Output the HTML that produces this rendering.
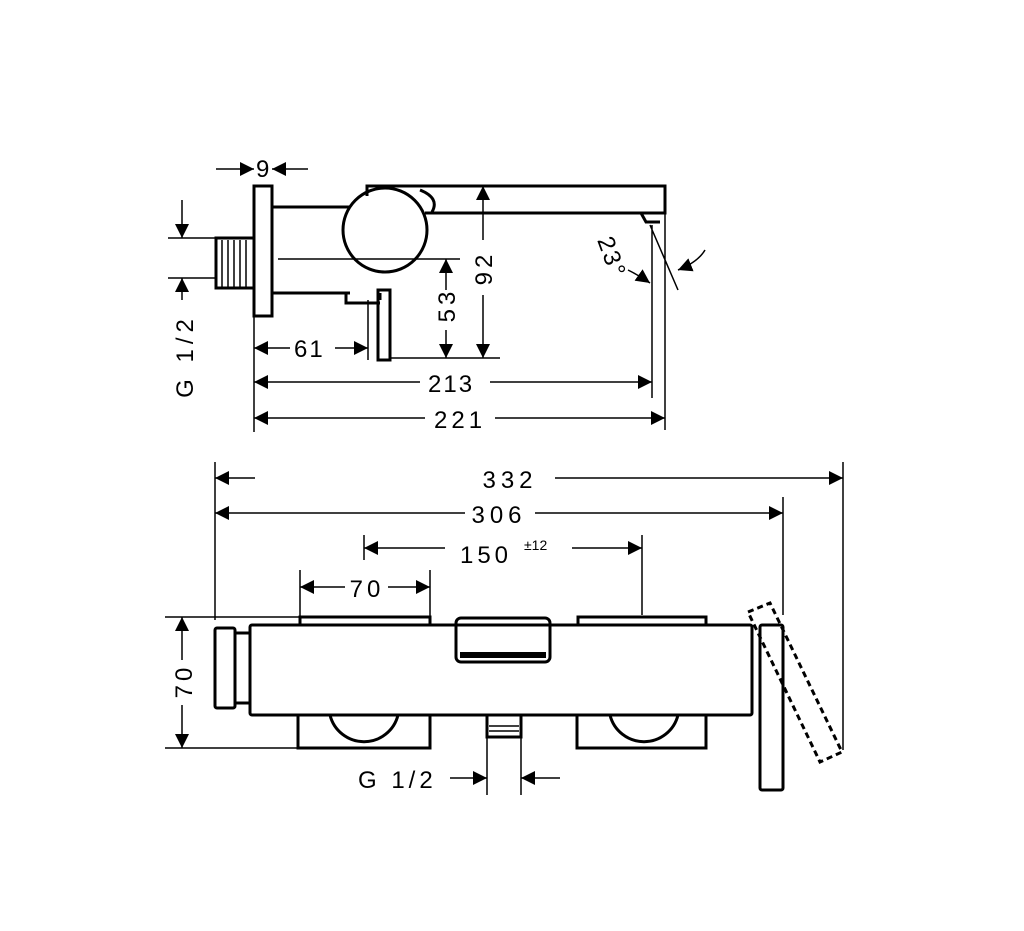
<!DOCTYPE html><html><head><style>body{margin:0;background:#fff}</style></head><body>
<svg width="1024" height="926" viewBox="0 0 1024 926" xmlns="http://www.w3.org/2000/svg" font-family="Liberation Sans, sans-serif" font-size="24" fill="none" stroke="#000">
<defs><marker id="a" viewBox="0 0 10 10" refX="10" refY="5" markerWidth="11" markerHeight="11" markerUnits="userSpaceOnUse" orient="auto-start-reverse"><path d="M0,0L10,5L0,10z" fill="#000" stroke="none"/></marker>
<marker id="b" viewBox="0 0 10 10" refX="10" refY="5" markerWidth="14" markerHeight="14" markerUnits="userSpaceOnUse" orient="auto-start-reverse"><path d="M0,0L10,5L0,10z" fill="#000" stroke="none"/></marker></defs>
<g stroke-width="3">
<rect x="254" y="186" width="18" height="130"/>
<path d="M272,207H350M272,293H350"/>
<circle cx="385" cy="230" r="42" fill="#fff"/>
<path d="M367,196V186H665V213H425M420,190Q440,198 432,212"/>
<rect x="216" y="238" width="38" height="50"/>
<path d="M346,293V303H380M380,300V293"/>
<rect x="378" y="290" width="12" height="70"/>
<path d="M641,213L646,222H660"/>
</g>
<g stroke-width="1.5">
<path d="M222,240V287M228,240V287M234,240V287M240,240V287M246,240V287"/>
<path d="M216,169H254" marker-end="url(#b)"/><path d="M308,169H272" marker-end="url(#b)"/>
<path d="M168,238H216M168,278H216M278,259H460M390,358H500"/>
<path d="M182,200V238" marker-end="url(#b)"/><path d="M182,300V278" marker-end="url(#b)"/>
<path d="M446,290V259" marker-end="url(#b)"/><path d="M446,330V358" marker-end="url(#b)"/>
<path d="M483,240V186" marker-end="url(#b)"/><path d="M483,295V358" marker-end="url(#b)"/>
<path d="M290,348H254" marker-end="url(#b)"/><path d="M335,348H368" marker-end="url(#b)"/>
<path d="M368,300V360M254,316V432M652,225V398M665,213V430M650,225L678,290"/>
<path d="M420,382H254" marker-end="url(#b)"/><path d="M490,382H652" marker-end="url(#b)"/>
<path d="M425,418H254" marker-end="url(#b)"/><path d="M495,418H665" marker-end="url(#b)"/>
<path d="M628,270Q640,276 650,283" marker-end="url(#b)"/>
<path d="M705,250Q698,262 678,270" marker-end="url(#b)"/>
</g>
<g fill="#000" stroke="none">
<text x="256" y="177">9</text>
<text x="294" y="357" letter-spacing="2">61</text>
<text x="428" y="392" letter-spacing="2">213</text>
<text x="434" y="428" letter-spacing="4">221</text>
<text transform="translate(193,356) rotate(-90)" text-anchor="middle" letter-spacing="5">G 1/2</text>
<text transform="translate(455,305) rotate(-90)" text-anchor="middle" letter-spacing="4">53</text>
<text transform="translate(492,268) rotate(-90)" text-anchor="middle" letter-spacing="4">92</text>
<text transform="translate(597,240) rotate(70)" letter-spacing="2">23°</text>
<text x="510" y="488" text-anchor="middle" letter-spacing="5">332</text>
<text x="499" y="523" text-anchor="middle" letter-spacing="5">306</text>
<text x="486" y="563" text-anchor="middle" letter-spacing="4">150</text>
<text x="524" y="550" font-size="14">±12</text>
<text x="367" y="597" text-anchor="middle" letter-spacing="4">70</text>
<text transform="translate(192,681) rotate(-90)" text-anchor="middle" letter-spacing="4">70</text>
<text x="358" y="788" letter-spacing="4">G 1/2</text>
</g>
<g stroke-width="1.5">
<path d="M255,478H215" marker-end="url(#b)"/><path d="M555,478H843" marker-end="url(#b)"/>
<path d="M465,513H215" marker-end="url(#b)"/><path d="M535,513H783" marker-end="url(#b)"/>
<path d="M445,548H364" marker-end="url(#b)"/><path d="M572,548H642" marker-end="url(#b)"/>
<path d="M345,587H300" marker-end="url(#b)"/><path d="M388,587H430" marker-end="url(#b)"/>
<path d="M215,462V620M843,462V750M783,497V615M364,535V560M642,535V615M300,570V620M430,570V620"/>
<path d="M165,617H300M165,748H298"/>
<path d="M182,660V617" marker-end="url(#b)"/><path d="M182,705V748" marker-end="url(#b)"/>
<path d="M450,778H487" marker-end="url(#b)"/><path d="M560,778H521" marker-end="url(#b)"/>
<path d="M487,737V795M521,737V795"/>
</g>
<g stroke-width="3">
<rect x="250" y="625" width="502" height="90" rx="2"/>
<rect x="215" y="628" width="20" height="80" rx="2"/>
<path d="M235,633H250M235,703H250"/>
<path d="M300,625V617H430V625M578,625V617H706V625"/>
<rect x="456" y="618" width="94" height="44" rx="5"/>
<path d="M460,655H546" stroke-width="6"/>
<path d="M298,715V748H430V715M330,715A35,35 0 0 0 398,715"/>
<path d="M577,715V748H706V715M610,715A35,35 0 0 0 678,715"/>
<rect x="487" y="715" width="34" height="22"/>
<path d="M489,726H519M489,731H519" stroke-width="1.5"/>
<rect x="760" y="625" width="23" height="165" rx="2"/>
<path d="M748,612L770,603L842,752L820,762Z" stroke-dasharray="6,4"/>
</g>
</svg></body></html>
